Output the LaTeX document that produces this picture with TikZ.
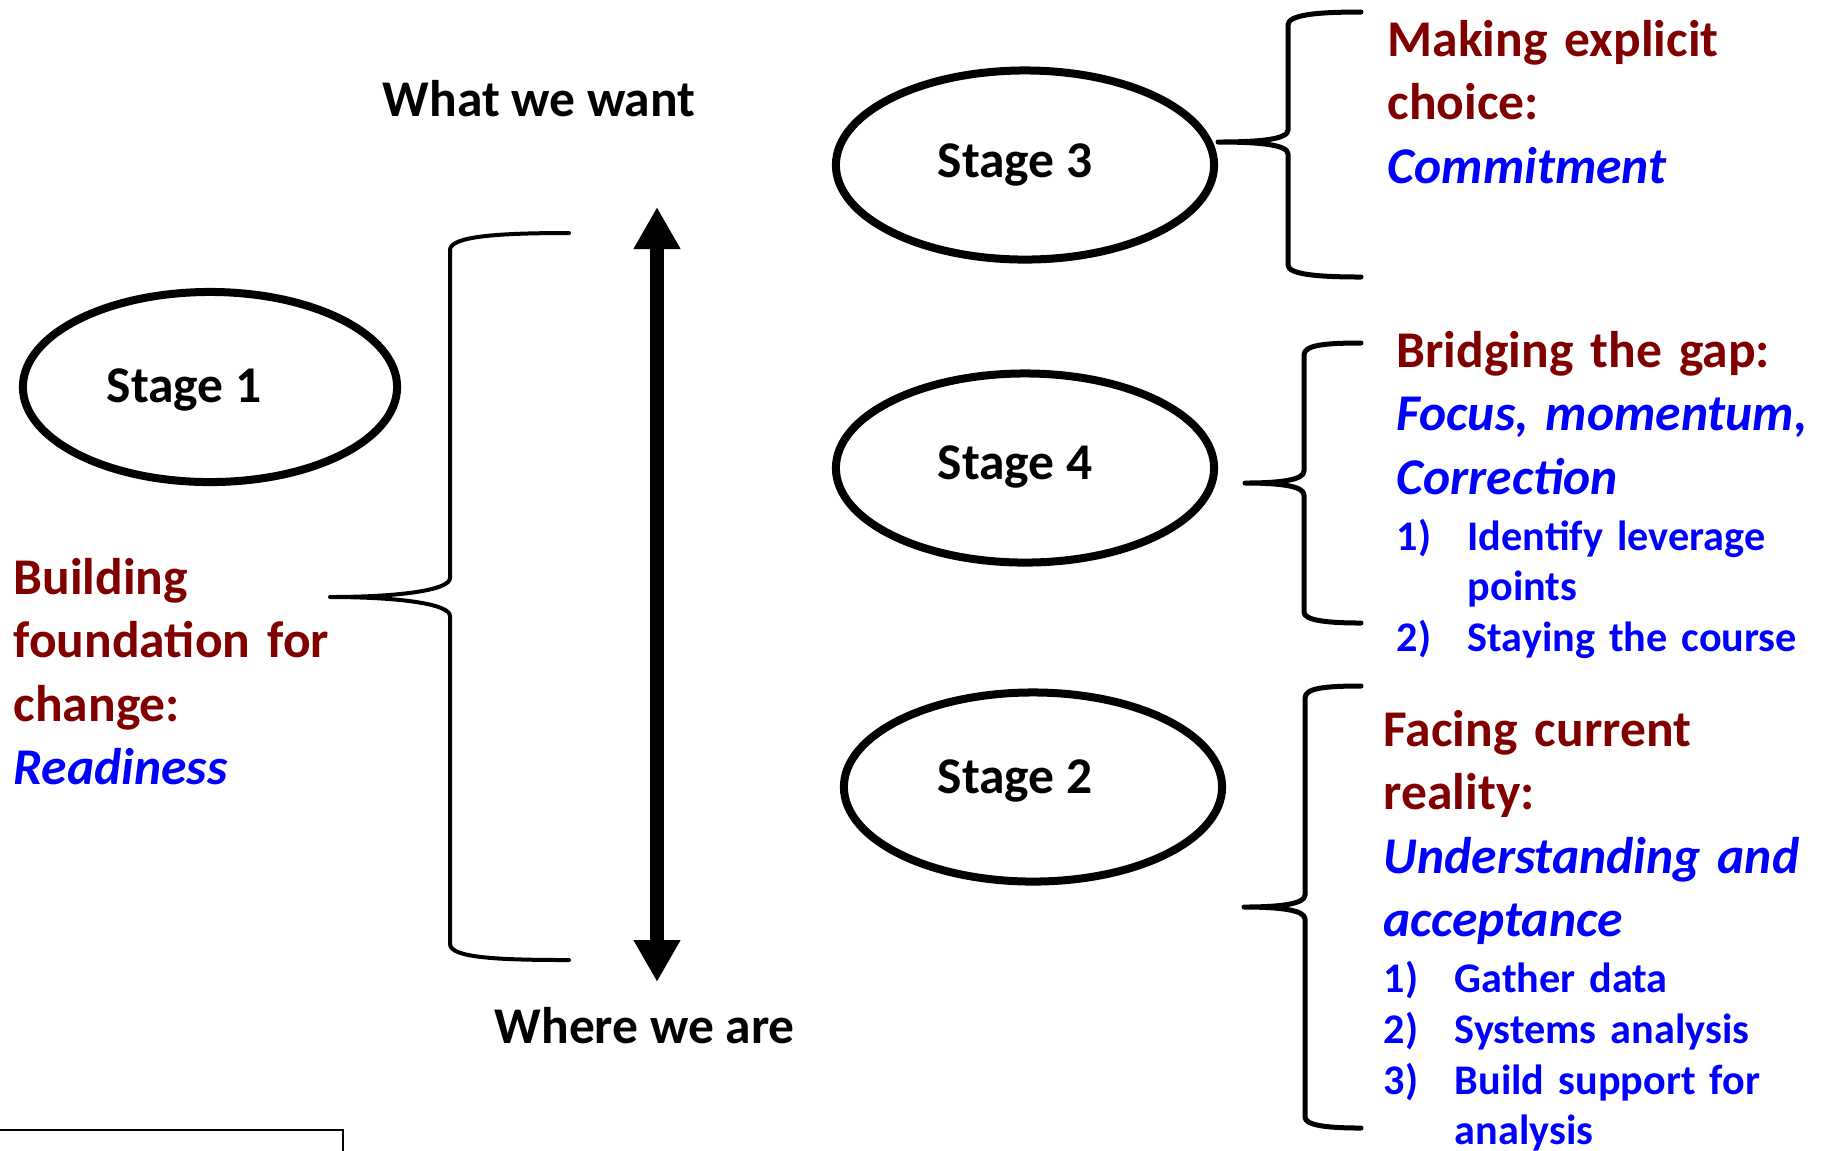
\documentclass[tikz,border=0pt]{standalone}
\usepackage{fontspec}
\setmainfont{Carlito}
\usetikzlibrary{arrows.meta,shapes.geometric}
\definecolor{dred}{HTML}{800000}
\definecolor{lblue}{HTML}{0000FF}
\begin{document}
\begin{tikzpicture}[x=0.01cm,y=-0.01cm,
  stage/.style={ellipse, draw, line width=0.08cm, minimum width=3.78cm, minimum height=1.89cm, inner sep=0pt},
  stagetxt/.style={anchor=base, inner sep=0pt, font=\fontsize{14.65}{18}\selectfont\bfseries},
  plain/.style={anchor=base west, inner sep=0pt, font=\fontsize{14.65}{18}\selectfont\bfseries},
  head/.style={anchor=base west, inner sep=0pt, text width=6cm, align=left, text=dred, font=\fontsize{14.65}{18.07}\selectfont\bfseries},
  itemnum/.style={anchor=base west, inner sep=0pt, text=lblue, font=\fontsize{12}{14.37}\selectfont\bfseries},
  itemtxt/.style={anchor=base west, inner sep=0pt, text width=4.5cm, align=left, text=lblue, font=\fontsize{12}{14.37}\selectfont\bfseries},
  brace/.style={line width=0.05cm, line cap=round, line join=round},
  bigarrow/.style={line width=0.14cm, {Triangle[length=0.42cm,width=0.44cm]}-{Triangle[length=0.42cm,width=0.44cm]}},
]
\useasboundingbox (0,0) rectangle (1827,1150);

% ellipses
\node[stage, minimum width=3.74cm, minimum height=1.90cm] (s1) at (210,387) {};
\node[stage] (s3) at (1025,165) {};
\node[stage] (s4) at (1025,468) {};
\node[stage] (s2) at (1033,787) {};
\node[stagetxt] (s1t) at (184,402) {Stage 1};
\node[stagetxt] (s3t) at (1015,177) {Stage 3};
\node[stagetxt] (s4t) at (1015,479) {Stage 4};
\node[stagetxt] (s2t) at (1015,793) {Stage 2};

% top / bottom labels and arrow
\node[plain] (want) at (382,116) {What we want};
\node[plain] (are) at (494,1043) {Where we are};
\coordinate (atop) at (657,207);
\coordinate (abot) at (657,982);
\draw[bigarrow] (atop) -- (abot);

% left text
\node[head] (t1) at (13,594) {Building\\foundation for\\change:\\{\itshape\color{lblue}Readiness}};

% right texts
\node[head] (t3) at (1387,56) {Making explicit\\choice:\\{\itshape\color{lblue}Commitment}};
\node[head] (t4) at (1396,367) {Bridging the gap:\\{\itshape\color{lblue}Focus, momentum,}\\{\itshape\color{lblue}Correction}};
\node[itemnum] (n41) at (1396,550) {1)};
\node[itemtxt] (i41) at (1467,550) {Identify leverage\\points};
\node[itemnum] (n42) at (1396,651) {2)};
\node[itemtxt] (i42) at (1467,651) {Staying the course};

\node[head] (t2) at (1383,746) {Facing current\\reality:\\{\itshape\color{lblue}Understanding and}\\{\itshape\color{lblue}acceptance}};
\node[itemnum] (n21) at (1383,992) {1)};
\node[itemtxt] (i21) at (1454,992) {Gather data};
\node[itemnum] (n22) at (1383,1043) {2)};
\node[itemtxt] (i22) at (1454,1043) {Systems analysis};
\node[itemnum] (n23) at (1383,1094) {3)};
\node[itemtxt] (i23) at (1454,1094) {Build support for\\analysis};

% left brace
\draw[brace, line width=0.04cm] (569,233) .. controls (500,233) and (450,236) .. (450,250)
  -- (450,578) .. controls (450,590) and (400,597) .. (330,597)
  .. controls (400,597) and (450,604) .. (450,616)
  -- (450,944) .. controls (450,958) and (500,960) .. (569,960);

% brace stage 3
\draw[brace] (1361,12) .. controls (1315,12) and (1288,15) .. (1288,25)
  -- (1288,130) .. controls (1288,139) and (1262,142) .. (1218,142)
  .. controls (1262,142) and (1288,145) .. (1288,154)
  -- (1288,265) .. controls (1288,274) and (1315,277) .. (1361,277);

% brace stage 4
\draw[brace] (1361,343) .. controls (1325,343) and (1304,345) .. (1304,355)
  -- (1304,471) .. controls (1304,480) and (1280,483) .. (1245,483)
  .. controls (1280,483) and (1304,486) .. (1304,495)
  -- (1304,612) .. controls (1304,620) and (1325,623) .. (1361,623);

% brace stage 2
\draw[brace] (1361,686) .. controls (1325,686) and (1305,688) .. (1305,698)
  -- (1305,895) .. controls (1305,904) and (1280,907) .. (1244,907)
  .. controls (1280,907) and (1305,910) .. (1305,919)
  -- (1305,1117) .. controls (1305,1125) and (1325,1128) .. (1361,1128);

% partial box bottom left
\draw[line width=0.025cm] (0,1130) -- (343,1130) -- (343,1152);
\end{tikzpicture}
\end{document}
